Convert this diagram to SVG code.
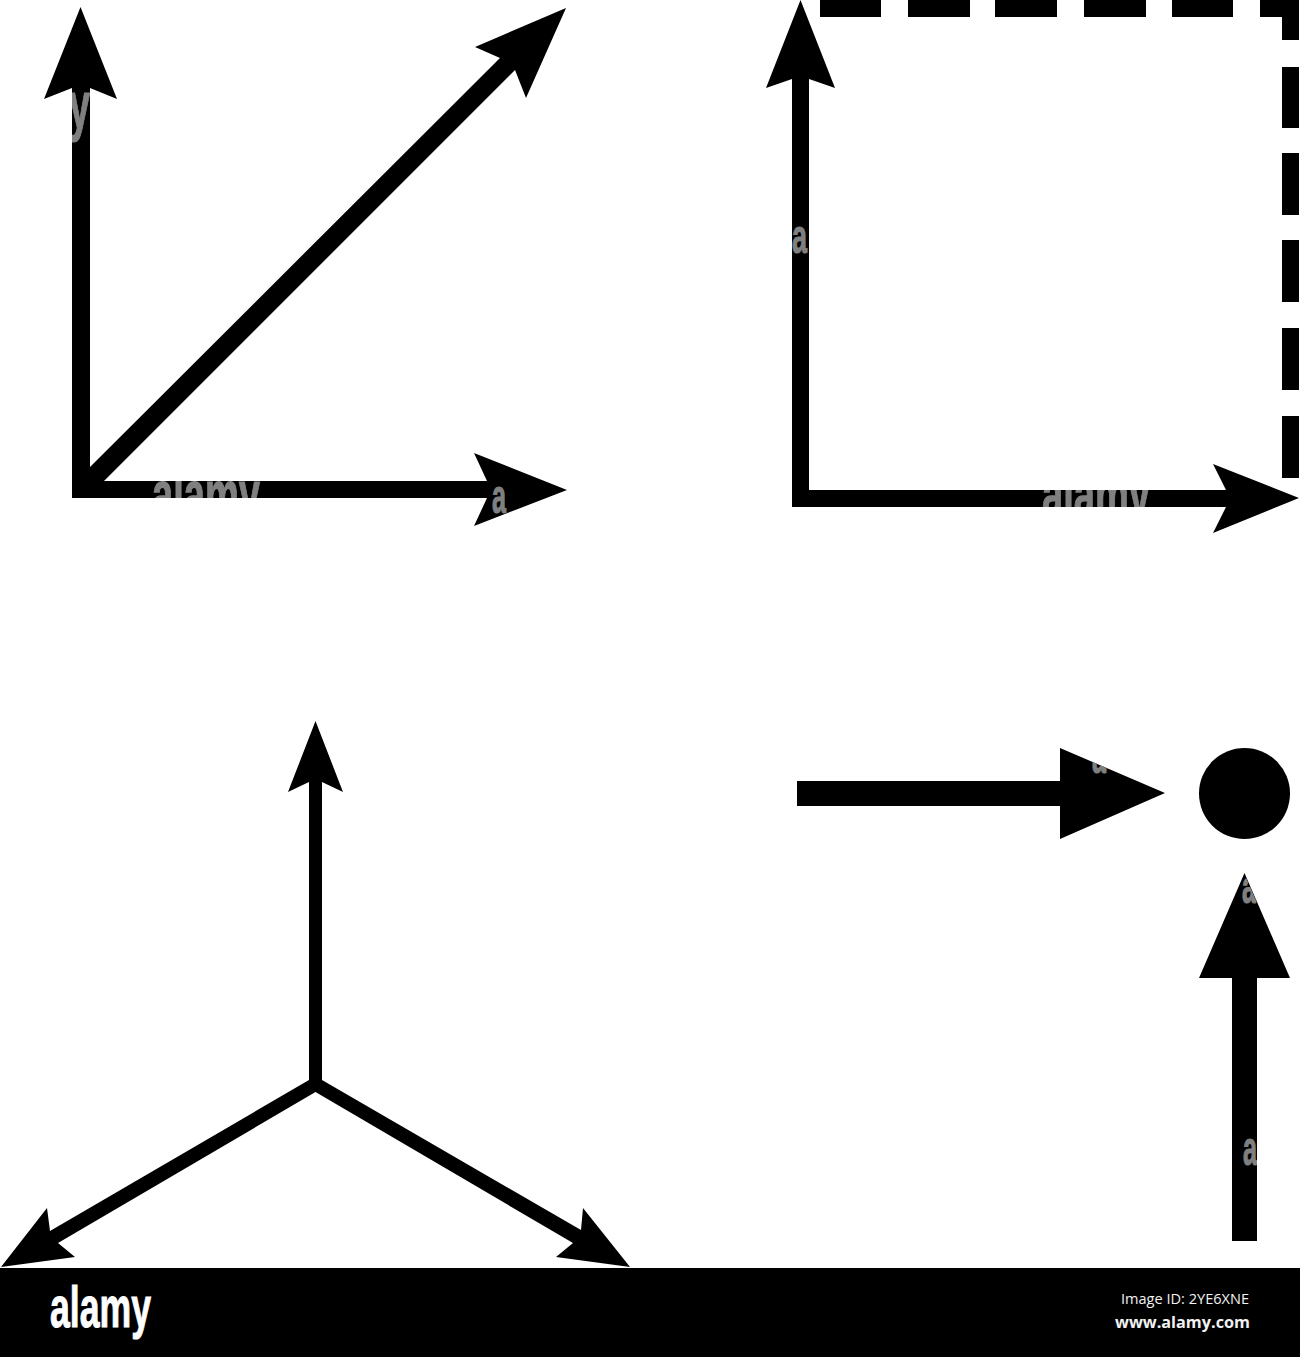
<svg xmlns="http://www.w3.org/2000/svg" width="1300" height="1357" viewBox="0 0 1300 1357">
<style>
.k{fill:#000}
.wm{fill:#808080;stroke:#808080;stroke-width:1.2;font-family:"Liberation Sans",Arial,sans-serif;font-weight:700}
.id{fill:#f2f2f2;font-family:"Open Sans","Noto Sans",sans-serif}
</style>
<defs>
<clipPath id="c1"><rect x="72" y="90" width="18" height="60"/></clipPath>
<clipPath id="c2"><rect x="150" y="481" width="112" height="17"/></clipPath>
<clipPath id="c3"><rect x="1040" y="490" width="112" height="17"/></clipPath>
<clipPath id="c4"><rect x="792" y="220" width="17" height="40"/></clipPath>
<clipPath id="c5"><polygon points="1060,748 1165,793 1060,839"/></clipPath>
<clipPath id="c6"><polygon points="1244,873 1290,978 1199,978"/></clipPath>
<clipPath id="c7"><rect x="1232" y="1130" width="25" height="40"/></clipPath>
<clipPath id="c8"><polygon points="474,453 567,490 474,526 487,498 487,481"/></clipPath>
</defs>
<rect width="1300" height="1357" fill="#fff"/>
<g id="connectors">
<g id="panel-1">
<polygon class="k" points="72,498 72,88 44,99 80.500,7 117,99 90,88 90,467 500,58 475,47 566,8 526,98 515,70 104,481 487,481 474,453 567,490 474,526 487,498"/>
</g>
<g id="panel-2">
<polygon class="k" points="792,507 792,79 766,88 800.500,0 835,88 809,79 809,490 1226,490 1213,464 1299,498 1213,533 1226,507"/>
<g id="dashes" class="k">
<rect x="820" y="0" width="61" height="17"/>
<rect x="908" y="0" width="62" height="17"/>
<rect x="995" y="0" width="62" height="17"/>
<rect x="1084" y="0" width="62" height="17"/>
<rect x="1172" y="0" width="61" height="17"/>
<polygon points="1260,0 1299,0 1299,40 1282,40 1282,17 1260,17"/>
<rect x="1282" y="67" width="17" height="61"/>
<rect x="1282" y="153" width="17" height="62"/>
<rect x="1282" y="240" width="17" height="62"/>
<rect x="1282" y="328" width="17" height="62"/>
<rect x="1282" y="416" width="17" height="62"/>
</g>
</g>
<g id="panel-3">
<polygon class="k" points="309,1080 309,782 288,792 315.500,721 343,792 322,782 322,1080 581,1230 583,1208 630,1267 556,1257 573,1243 315.500,1092 58,1243 75,1257 1,1267 47,1208 50,1231"/>
</g>
<g id="panel-4">
<polygon class="k" points="797,781 1060,781 1060,748 1165,793 1060,839 1060,806 797,806"/>
<polygon class="k" points="1232,1241 1232,978 1199,978 1244.500,873 1290,978 1257,978 1257,1241"/>
</g>
</g>
<g id="dot"><circle class="k" cx="1244.500" cy="793.500" r="45.500"/></g>
<g id="watermark-fragments">
<g clip-path="url(#c1)"><text class="wm" x="69" y="128" font-size="66" textLength="21" lengthAdjust="spacingAndGlyphs">y</text></g>
<g clip-path="url(#c2)"><text class="wm" x="152" y="517" font-size="66" textLength="108" lengthAdjust="spacingAndGlyphs">alamy</text></g>
<g clip-path="url(#c3)"><text class="wm" x="1042" y="517" font-size="66" textLength="108" lengthAdjust="spacingAndGlyphs">alamy</text></g>
<g clip-path="url(#c4)"><text class="wm" x="792" y="253" font-size="48" textLength="15" lengthAdjust="spacingAndGlyphs">a</text></g>
<g clip-path="url(#c5)"><text class="wm" x="1092" y="773" font-size="46" textLength="14" lengthAdjust="spacingAndGlyphs">a</text></g>
<g clip-path="url(#c6)"><text class="wm" x="1242" y="903" font-size="46" textLength="14" lengthAdjust="spacingAndGlyphs">a</text></g>
<g clip-path="url(#c7)"><text class="wm" x="1243" y="1165" font-size="48" textLength="14" lengthAdjust="spacingAndGlyphs">a</text></g>
<g clip-path="url(#c8)"><text class="wm" x="492" y="513" font-size="48" textLength="14" lengthAdjust="spacingAndGlyphs">a</text></g>
</g>
<g id="footer">
<rect class="k" x="0" y="1268" width="1300" height="89"/>
<text x="50" y="1327" font-family="'Liberation Sans',Arial,sans-serif" font-weight="700" font-size="58" fill="#fff" stroke="#fff" stroke-width="1" textLength="101" lengthAdjust="spacingAndGlyphs">alamy</text>
<text class="id" x="1121" y="1304" font-size="14.500" textLength="128" lengthAdjust="spacingAndGlyphs">Image ID: 2YE6XNE</text>
<text class="id" x="1115" y="1328" font-size="16.500" font-weight="700" textLength="135" lengthAdjust="spacingAndGlyphs">www.alamy.com</text>
</g>
</svg>
